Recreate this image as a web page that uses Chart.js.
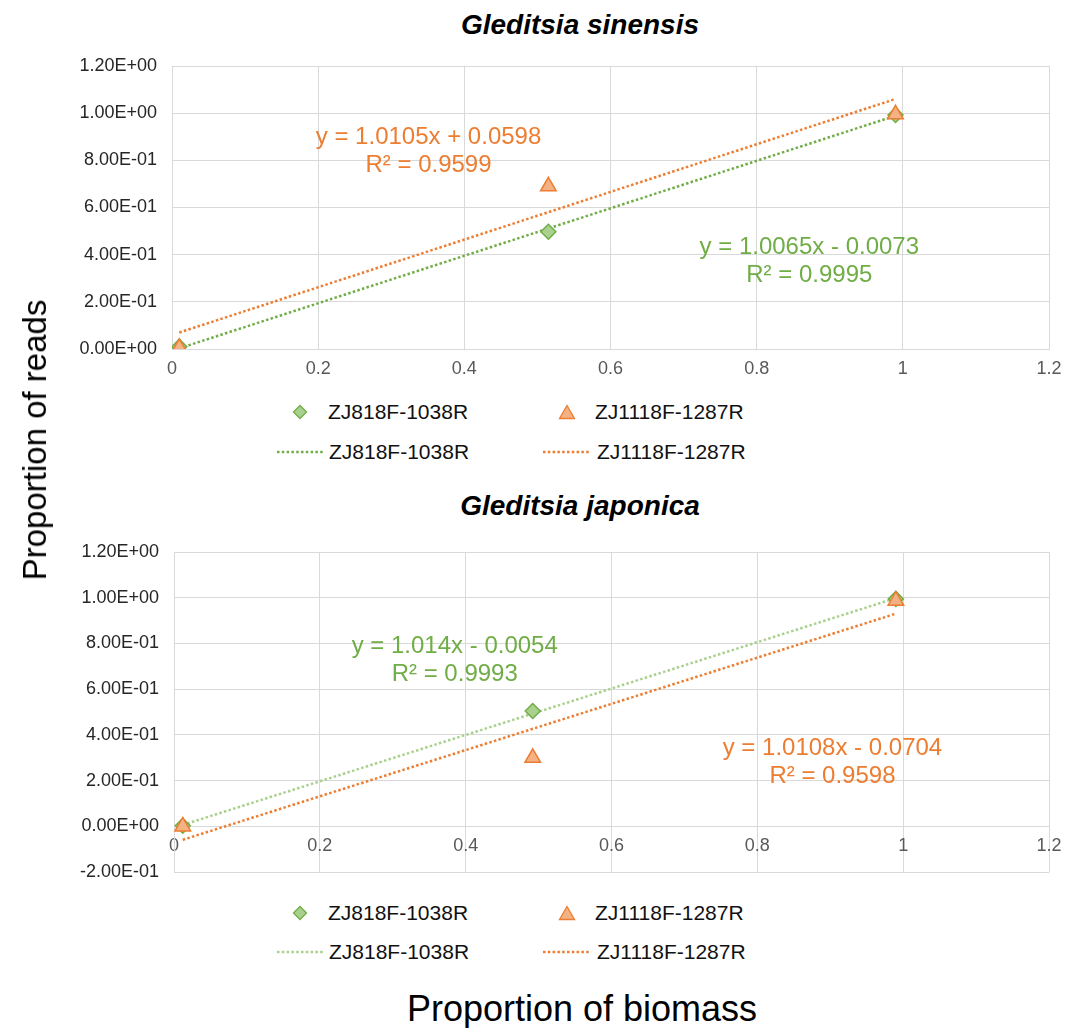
<!DOCTYPE html>
<html>
<head>
<meta charset="utf-8">
<script src="https://cdn.jsdelivr.net/npm/chart.js@4.4.0/dist/chart.umd.min.js"></script>
<style>
  body { margin: 0; background: #fff; font-family: "Liberation Sans", Arial, sans-serif; }
  #page { position: relative; width: 1072px; height: 1028px; overflow: hidden; }
  .title { position: absolute; left: 0; width: 1160px; text-align: center; font-weight: bold; font-style: italic; font-size: 28px; color: #000; }
  .chart-box { position: absolute; left: 0; width: 1072px; }
  .legend-text { position: absolute; font-size: 21px; height: 24px; line-height: 24px; color: #111; white-space: nowrap; }
  .legend-icon { position: absolute; }
  .legend-icon svg { display: block; }
  #ylabel { position: absolute; left: 35px; top: 440px; transform: translate(-50%, -50%) rotate(-90deg); font-size: 33px; white-space: nowrap; color: #000; }
  #xlabel { position: absolute; left: 0; width: 1164px; top: 988px; text-align: center; font-size: 36px; color: #000; }
</style>
</head>
<body>
<div id="page">
  <div class="title" style="top:9px">Gleditsia sinensis</div>
  <div class="chart-box" style="top:0;height:385px"><canvas id="chart-sinensis"></canvas></div>
  <div id="legend-sinensis"></div>

  <div class="title" style="top:490px">Gleditsia japonica</div>
  <div class="chart-box" style="top:480px;height:418px"><canvas id="chart-japonica"></canvas></div>
  <div id="legend-japonica"></div>

  <div id="ylabel">Proportion of reads</div>
  <div id="xlabel">Proportion of biomass</div>
</div>
<script>
const SERIES_NAMES = ['ZJ818F-1038R', 'ZJ1118F-1287R'];

// Gleditsia sinensis
const BIOMASS_SINENSIS = [0.01, 0.515, 0.99];
const READS_SINENSIS_818 = [0.01, 0.497, 0.992];
const READS_SINENSIS_1118 = [0.005, 0.69, 0.995];
const SLOPE_SINENSIS = [1.0065, 1.0105];
const INTERCEPT_SINENSIS = [-0.0073, 0.0598];
const R2_SINENSIS = ['0.9995', '0.9599'];

// Gleditsia japonica
const BIOMASS_JAPONICA = [0.012, 0.492, 0.99];
const READS_JAPONICA_818 = [0.003, 0.505, 0.995];
const READS_JAPONICA_1118 = [0.0, 0.30, 0.987];
const SLOPE_JAPONICA = [1.014, 1.0108];
const INTERCEPT_JAPONICA = [-0.0054, -0.0704];
const R2_JAPONICA = ['0.9993', '0.9598'];

const GREEN = '#70AD47';
const GREEN_LIGHT = '#A9D18E';
const ORANGE = '#ED7D31';
const ORANGE_FILL = '#F4B183';
const GRID = '#d9d9d9';
const FONT = '"Liberation Sans", Arial, sans-serif';

function sciLabel(v) {
  const r = Math.round(v * 1e6) / 1e6;
  const s = r.toExponential(2).toUpperCase();
  const [mant, exp] = s.split('E');
  const sign = exp[0] === '-' ? '-' : '+';
  const digits = exp.replace(/[+-]/, '').padStart(2, '0');
  return `${mant}E${sign}${digits}`;
}

function equationText(m, b) {
  const op = b < 0 ? '-' : '+';
  return `y = ${m}x ${op} ${Math.abs(b)}`;
}

function points(xs, ys) {
  return xs.map((x, i) => ({ x, y: ys[i] }));
}

function trendPoints(xs, m, b) {
  const x0 = xs[0];
  const x1 = xs[xs.length - 1];
  return [{ x: x0, y: m * x0 + b }, { x: x1, y: m * x1 + b }];
}

const equationLabels = {
  id: 'equationLabels',
  afterDatasetsDraw(chart, args, opts) {
    const { ctx, scales } = chart;
    ctx.save();
    ctx.font = `24px ${FONT}`;
    ctx.textAlign = 'center';
    ctx.textBaseline = 'middle';
    opts.items.forEach((it) => {
      const px = scales.x.getPixelForValue(it.x);
      const py = scales.y.getPixelForValue(it.y);
      ctx.fillStyle = it.color;
      ctx.fillText(it.lines[0], px, py);
      ctx.fillText(it.lines[1], px, py + 28);
    });
    ctx.restore();
  },
};

function renderChart(canvasId, cfg) {
  const ctx = document.getElementById(canvasId).getContext('2d');
  new Chart(ctx, {
    type: 'scatter',
    data: {
      datasets: [
        {
          label: SERIES_NAMES[1],
          data: points(cfg.biomass, cfg.reads1118),
          pointStyle: 'triangle',
          pointRadius: 9,
          backgroundColor: ORANGE_FILL,
          borderColor: ORANGE,
          borderWidth: 1.5,
          order: 0,
        },
        {
          label: SERIES_NAMES[0],
          data: points(cfg.biomass, cfg.reads818),
          pointStyle: 'rectRot',
          pointRadius: 7.5,
          backgroundColor: GREEN_LIGHT,
          borderColor: GREEN,
          borderWidth: 1.5,
          order: 1,
        },
        {
          label: SERIES_NAMES[0] + ' trend',
          data: trendPoints(cfg.biomass, cfg.slope[0], cfg.intercept[0]),
          showLine: true,
          pointRadius: 0,
          borderColor: cfg.greenLine,
          borderWidth: 2.5,
          borderDash: [2.5, 2.3],
          order: 2,
        },
        {
          label: SERIES_NAMES[1] + ' trend',
          data: trendPoints(cfg.biomass, cfg.slope[1], cfg.intercept[1]),
          showLine: true,
          pointRadius: 0,
          borderColor: ORANGE,
          borderWidth: 2.5,
          borderDash: [2.5, 2.3],
          order: 3,
        },
      ],
    },
    options: {
      responsive: true,
      maintainAspectRatio: false,
      animation: false,
      layout: { padding: cfg.padding },
      plugins: {
        legend: { display: false },
        tooltip: { enabled: false },
        equationLabels: {
          items: [
            {
              x: cfg.eqPos[0][0], y: cfg.eqPos[0][1], color: GREEN,
              lines: [equationText(cfg.slope[0], cfg.intercept[0]), `R² = ${cfg.r2[0]}`],
            },
            {
              x: cfg.eqPos[1][0], y: cfg.eqPos[1][1], color: ORANGE,
              lines: [equationText(cfg.slope[1], cfg.intercept[1]), `R² = ${cfg.r2[1]}`],
            },
          ],
        },
      },
      scales: {
        x: {
          type: 'linear',
          position: cfg.xPosition,
          min: 0,
          max: 1.2,
          ticks: {
            stepSize: 0.2,
            padding: 9,
            color: '#595959',
            font: { family: FONT, size: 18 },
            callback: (v) => String(Number(v.toFixed(1))),
          },
          grid: { color: GRID, lineWidth: 1, drawTicks: false },
          border: { color: GRID },
          afterFit: (scale) => { scale.height = cfg.xHeight; },
        },
        y: {
          min: cfg.yMin,
          max: 1.2,
          ticks: {
            stepSize: 0.2,
            padding: 15,
            color: '#262626',
            font: { family: FONT, size: 18 },
            callback: (v) => sciLabel(v),
          },
          grid: { color: GRID, lineWidth: 1, drawTicks: false },
          border: { color: GRID },
          afterFit: (scale) => { scale.width = cfg.yWidth; },
        },
      },
    },
    plugins: [equationLabels],
  });
}

function diamondSvg() {
  return '<svg width="16" height="16"><polygon points="8,1.5 14.5,8 8,14.5 1.5,8" fill="' + GREEN_LIGHT + '" stroke="' + GREEN + '" stroke-width="1.3"/></svg>';
}

function triangleSvg() {
  return '<svg width="18" height="16"><polygon points="9,1.5 16.5,14.5 1.5,14.5" fill="' + ORANGE_FILL + '" stroke="' + ORANGE + '" stroke-width="1.3"/></svg>';
}

function dottedSvg(color) {
  return '<svg width="46" height="6"><line x1="0" y1="3" x2="46" y2="3" stroke="' + color + '" stroke-width="2.5" stroke-dasharray="2.5 2.3"/></svg>';
}

function buildLegend(containerId, row1, row2, greenLine) {
  const el = document.getElementById(containerId);
  const items = [
    { icon: diamondSvg(), ix: 292, iy: row1 - 8, tx: 328, ty: row1, text: SERIES_NAMES[0] },
    { icon: triangleSvg(), ix: 558, iy: row1 - 8, tx: 595, ty: row1, text: SERIES_NAMES[1] },
    { icon: dottedSvg(greenLine), ix: 277, iy: row2 - 3, tx: 329, ty: row2, text: SERIES_NAMES[0] },
    { icon: dottedSvg(ORANGE), ix: 543, iy: row2 - 3, tx: 597, ty: row2, text: SERIES_NAMES[1] },
  ];
  el.innerHTML = items.map((it) =>
    `<div class="legend-icon" style="left:${it.ix}px;top:${it.iy}px">${it.icon}</div>` +
    `<div class="legend-text" style="left:${it.tx}px;top:${it.ty - 12}px">${it.text}</div>`
  ).join('');
}

renderChart('chart-sinensis', {
  biomass: BIOMASS_SINENSIS,
  reads818: READS_SINENSIS_818,
  reads1118: READS_SINENSIS_1118,
  slope: SLOPE_SINENSIS,
  intercept: INTERCEPT_SINENSIS,
  r2: R2_SINENSIS,
  greenLine: GREEN,
  eqPos: [[0.872, 0.433], [0.351, 0.899]],
  yMin: 0,
  xPosition: 'bottom',
  padding: { top: 66, right: 23, left: 0, bottom: 0 },
  yWidth: 172,
  xHeight: 36,
});

renderChart('chart-japonica', {
  biomass: BIOMASS_JAPONICA,
  reads818: READS_JAPONICA_818,
  reads1118: READS_JAPONICA_1118,
  slope: SLOPE_JAPONICA,
  intercept: INTERCEPT_JAPONICA,
  r2: R2_JAPONICA,
  greenLine: GREEN_LIGHT,
  eqPos: [[0.385, 0.789], [0.903, 0.342]],
  yMin: -0.2,
  xPosition: { y: 0 },
  padding: { top: 72, right: 23, left: 0, bottom: 10 },
  yWidth: 174,
  xHeight: 0,
});

buildLegend('legend-sinensis', 412, 452, GREEN);
buildLegend('legend-japonica', 913, 952, GREEN_LIGHT);
</script>
</body>
</html>
